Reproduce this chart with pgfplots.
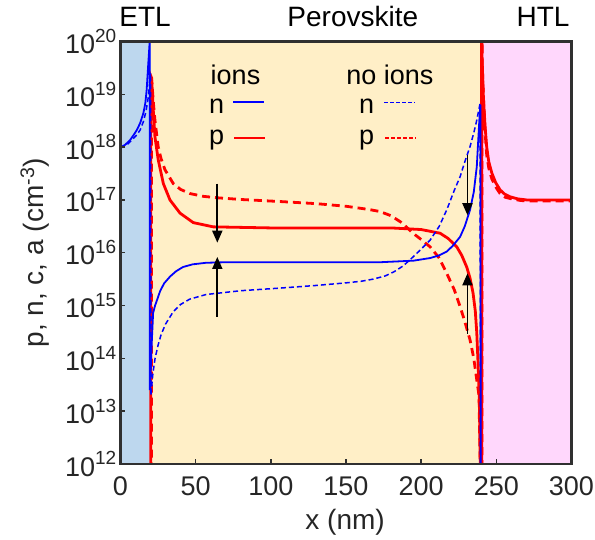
\documentclass[border=0pt]{standalone}
\usepackage{fontspec}
\setmainfont{Liberation Sans}
\setsansfont{Liberation Sans}
\usepackage{pgfplots}
\pgfplotsset{compat=1.18}
\usetikzlibrary{arrows.meta}
\definecolor{etlcol}{RGB}{189,215,238}
\definecolor{pvkcol}{RGB}{255,239,199}
\definecolor{htlcol}{RGB}{255,215,252}
\definecolor{framecol}{RGB}{48,48,48}
\definecolor{ncol}{RGB}{0,0,255}
\definecolor{pcol}{RGB}{255,0,0}
\newcommand{\tenp}[1]{10\raisebox{0.42em}{\fontsize{19}{19}\selectfont #1}}

\begin{document}
\begin{tikzpicture}[x=1pt,y=1pt]
\useasboundingbox (-120.5,-76) rectangle (474.5,464);
\begin{axis}[
  at={(0,0)}, anchor=south west,
  scale only axis, width=451pt, height=422.5pt,
  xmin=0, xmax=300, ymin=1e12, ymax=1e20,
  ymode=log, log basis y=10,
  xtick={0,50,100,150,200,250,300},
  ytick={1e12,1e13,1e14,1e15,1e16,1e17,1e18,1e19,1e20},
  yticklabels={\tenp{12},\tenp{13},\tenp{14},\tenp{15},\tenp{16},\tenp{17},\tenp{18},\tenp{19},\tenp{20}},
  yminorticks=false,
  tick align=inside, xtick pos=bottom, ytick pos=left,
  major tick length=5pt,
  tick style={framecol, line width=1.5pt},
  axis line style={framecol, line width=2.2pt},
  axis on top,
  /pgf/number format/assume math mode=true,
  ticklabel style={font=\fontsize{27}{32}\selectfont, text=black!85},
  xticklabel style={anchor=base, yshift=-32pt, inner sep=0pt},
  yticklabel style={anchor=east, xshift=-4pt, inner sep=0pt},
  xlabel={x (nm)}, ylabel={p, n, c, a (cm\textsuperscript{-3})},
  label style={font=\fontsize{28}{33}\selectfont, text=black!85},
  xlabel style={at={(axis description cs:0.498,0)}, anchor=base, yshift=-66pt},
  ylabel style={at={(axis description cs:-0.19,0.5)}, anchor=center},
]
% layer backgrounds
\fill[etlcol] (axis cs:0,1e12) rectangle (axis cs:20,1e20);
\fill[pvkcol] (axis cs:20,1e12) rectangle (axis cs:240,1e20);
\fill[htlcol] (axis cs:240,1e12) rectangle (axis cs:300,1e20);

% p, ions
\addplot[color=pcol, line width=2.8pt] coordinates {
 (0,1e10) (20.1,1e10) (20.1,2.24e19) (20.7,2.04e19) (21.8,5.01e18) (22.9,1.58e18)
 (25.1,5.75e17) (28.5,2.04e17) (32.9,1e17) (39.6,5.62e16) (48.4,3.72e16) (61.7,3.09e16)
 (100,2.95e16) (150,2.95e16) (180,2.95e16) (200,2.75e16) (212.6,2.34e16) (218,1.86e16)
 (223.7,1.29e16) (227,8.91e15) (230.3,5.37e15) (232.5,3.31e15) (234.5,1.74e15) (236,7.94e14)
 (237,3.02e14) (238,6.31e13) (238.7,1.58e13) (239.3,1e12) (239.6,1e10) (240.2,1e10)
 (240.2,3e20) (240.5,5e19) (241.4,8.91e18) (242.5,2.51e18) (243.6,1e18) (245,5.25e17)
 (247,3.24e17) (249.5,2.14e17) (252.5,1.55e17) (255.5,1.29e17) (259,1.15e17) (264,1.05e17)
 (270,1e17) (300,1e17)
};
% p, no ions
\addplot[color=pcol, line width=2.8pt, dash pattern=on 8pt off 5pt] coordinates {
 (0,1e10) (20.6,1e10) (20.6,2e19) (21.2,1.26e19) (22,6.31e18) (22.9,3.24e18) (25.1,1e18)
 (27,6.03e17) (29.6,3.72e17) (35.1,2.04e17) (40,1.58e17) (46.2,1.32e17) (55,1.17e17)
 (64,1.1e17) (80,1.02e17) (106,9.33e16) (130,8.51e16) (150,7.59e16) (165,6.61e16)
 (172.6,6.03e16) (180,5.01e16) (187,3.72e16) (194.6,2.34e16) (200,1.78e16) (206,1.29e16)
 (212,7.94e15) (217,4.07e15) (222,2e15) (225.9,9.55e14) (229,5.01e14) (232.5,2.24e14)
 (235,1e14) (237,3.89e13) (238.5,1.95e13) (239.2,1e12) (239.5,1e10) (240.4,1e10)
 (240.4,3e20) (240.7,3.16e19) (241.5,7.94e18) (242.5,2e18) (243.6,7.08e17) (245,3.98e17)
 (247,2.51e17) (249.5,1.78e17) (252.5,1.32e17) (256,1.12e17) (260,1.05e17) (266,9.77e16)
 (270,9.55e16) (300,9.55e16)
};
% n, ions
\addplot[color=ncol, line width=1.8pt] coordinates {
 (0,1e18) (3,1.1e18) (6.3,1.35e18) (9,1.74e18) (10.8,2.09e18) (13,2.82e18) (15.2,4.37e18)
 (16.5,6.76e18) (17.4,1.2e19) (18.5,3.89e19) (19.3,8.91e19) (19.5,1.2e20) (19.5,2.5e13)
 (20.2,7.94e13) (20.8,2e14) (21.7,7.24e14) (23,1e15) (24.5,1.32e15) (26.3,1.86e15)
 (29,2.63e15) (33,3.55e15) (37,4.47e15) (41.6,5.37e15) (48,6.03e15) (57,6.46e15)
 (70,6.61e15) (172.6,6.61e15) (195,7.08e15) (206,7.94e15) (212,8.91e15) (217,1.05e16)
 (221,1.35e16) (225.9,2e16) (229,3.16e16) (232.5,6.46e16) (235,1.41e17) (237,4.27e17)
 (238.7,3.24e18) (239.4,6.31e18) (239.7,1e10) (300,1e10)
};
% n, no ions
\addplot[color=ncol, line width=1.5pt, dash pattern=on 5pt off 3pt] coordinates {
 (0,9.55e17) (5,1.15e18) (10.8,1.7e18) (13,2.09e18) (15.2,3.02e18) (17,4.79e18)
 (18.5,8.91e18) (19.5,1.78e19) (20,2.51e19) (20.2,2e13) (21.5,5.01e13) (23,1e14)
 (25,1.78e14) (27,2.82e14) (30,4.47e14) (35,7.59e14) (40,1.05e15) (46,1.32e15)
 (57,1.62e15) (80,1.91e15) (106,2.14e15) (130,2.4e15) (150,2.69e15) (160,2.88e15)
 (168,3.16e15) (176,3.63e15) (182,4.37e15) (188,5.62e15) (194.6,8.32e15) (200,1.17e16)
 (206,1.74e16) (212,3.16e16) (217,6.46e16) (222,1.51e17) (225.9,2.75e17) (229,5.25e17)
 (232.5,1.02e18) (235,1.86e18) (237,3.24e18) (239.2,6.76e18) (239.5,1e10) (300,1e10)
};

% legend samples
\addplot[forget plot, color=ncol, line width=1.6pt] coordinates {(75.0,7.06e18) (95.5,7.06e18)};
\addplot[forget plot, color=pcol, line width=1.8pt] coordinates {(75.5,1.51e18) (96.1,1.51e18)};
\addplot[forget plot, color=ncol, line width=1.5pt, dash pattern=on 4pt off 2pt] coordinates {(175.3,7.06e18) (195.9,7.06e18)};
\addplot[forget plot, color=pcol, line width=2pt, dash pattern=on 4pt off 2pt] coordinates {(176.0,1.51e18) (196.6,1.51e18)};

% arrows
\draw[black, line width=1.8pt, -{Triangle[length=12pt,width=10pt]}] (axis cs:64.4,2.04e17) -- (axis cs:64.4,1.55e16);
\draw[black, line width=1.8pt, -{Triangle[length=12pt,width=10pt]}] (axis cs:64.4,6.17e14) -- (axis cs:64.4,8.32e15);
\draw[black, line width=1.8pt, -{Triangle[length=12pt,width=10pt]}] (axis cs:230.8,7.08e17) -- (axis cs:230.8,5.13e16);
\draw[black, line width=1.8pt, -{Triangle[length=12pt,width=10pt]}] (axis cs:230.8,2.95e14) -- (axis cs:230.8,4.07e15);
\end{axis}

% layer names
\begin{scope}[font=\fontsize{28}{33}\selectfont, text=black]
\node[anchor=base] at (24.5,437) {ETL};
\node[anchor=base] at (232.3,437) {Perovskite};
\node[anchor=base] at (422.5,437) {HTL};
\end{scope}

% legend text
\begin{scope}[font=\fontsize{27}{32}\selectfont, text=black]
\node[anchor=base] at (115,379) {ions};
\node[anchor=base] at (269.5,379) {no ions};
\node[anchor=base] at (96.2,350.7) {n};
\node[anchor=base] at (96.2,319.3) {p};
\node[anchor=base] at (246.2,350.7) {n};
\node[anchor=base] at (246.2,319.3) {p};
\end{scope}
\end{tikzpicture}
\end{document}
